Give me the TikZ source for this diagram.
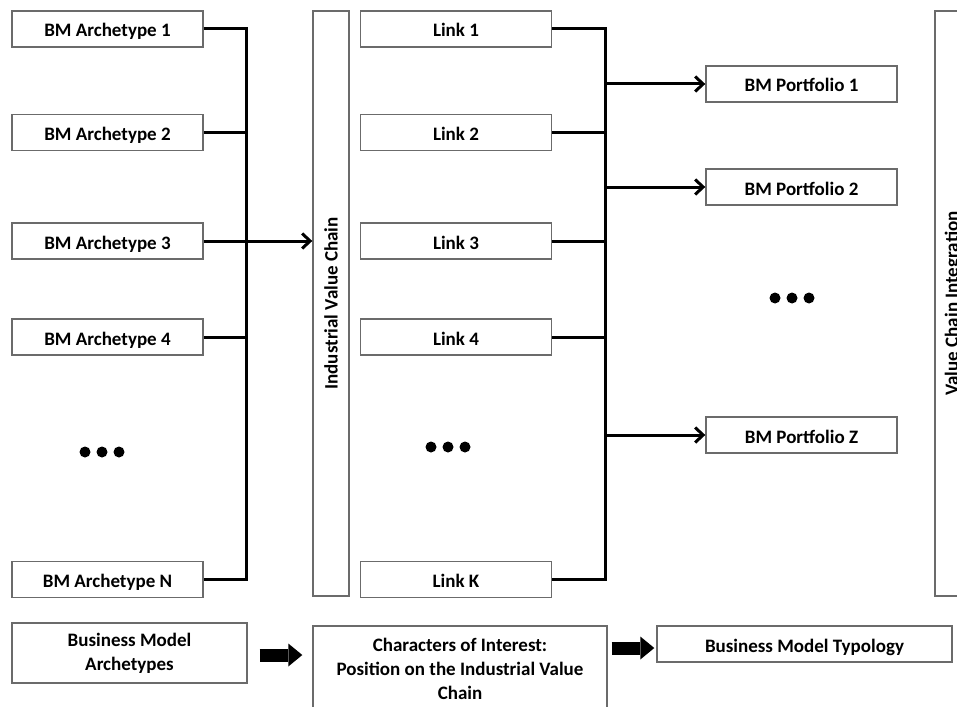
\documentclass[tikz,border=0pt]{standalone}
\usepackage{fontspec}
\setmainfont{Carlito}
\usetikzlibrary{arrows.meta,positioning}

\definecolor{boxgray}{rgb}{0.42,0.42,0.42}

\tikzset{
  box/.style={draw=boxgray, line width=1.4pt, minimum width=191pt, minimum height=36pt,
    inner sep=0pt, align=center, font=\bfseries\fontsize{19}{24}\selectfont},
  line/.style={box, text height=18pt, text depth=2pt},
  tallbox/.style={box, minimum width=36pt, minimum height=585pt},
  wire/.style={line width=3pt},
  fat/.style={line width=13pt, -{Triangle[length=14pt,width=23pt,line width=0pt]}},
  >={Straight Barb[length=8pt,width=15pt]}
}

\begin{document}
\begin{tikzpicture}[x=1pt,y=1pt,on grid]
	\useasboundingbox (0,0) rectangle (957,-706);
	\clip (0,0) rectangle (957,-706);

	% archetypes
	\node[line] (arch1) at (107.5,-29) {BM Archetype 1};
	\node[line] (arch2) [below=103.5pt of arch1] {BM Archetype 2};
	\node[line] (arch3) [below=108.5pt of arch2] {BM Archetype 3};
	\node[line] (arch4) [below=96pt of arch3] {BM Archetype 4};
	\node[line] (archN) [below=242.5pt of arch4] {BM Archetype N};

	% value chain and links
	\node[tallbox] (ivc) at (331,-303.5) {\rotatebox{90}{Industrial Value Chain}};
	\node[line] (link1) [right=348.5pt of arch1] {Link 1};
	\node[line] (link2) [right=348.5pt of arch2] {Link 2};
	\node[line] (link3) [right=348.5pt of arch3] {Link 3};
	\node[line] (link4) [right=348.5pt of arch4] {Link 4};
	\node[line] (linkK) [right=348.5pt of archN] {Link K};

	% portfolios
	\node[line] (port1) at (801.5,-84) {BM Portfolio 1};
	\node[line] (port2) [below=103pt of port1] {BM Portfolio 2};
	\node[line] (portZ) [below=248pt of port2] {BM Portfolio Z};
	\node[tallbox] (vci) at (953,-303.5) {\rotatebox{90}{Value Chain Integration}};

	% bottom row
	\node[box, minimum width=235pt, minimum height=60pt] (bmArch) at (129.5,-653)
		{Business Model\\Archetypes};
	\node[box, minimum width=294pt, minimum height=86pt] (charInt) at (460,-669)
		{Characters of Interest:\\Position on the Industrial Value\\Chain};
	\node[line, minimum width=295pt] (bmTypo) at (804.5,-644) {Business Model Typology};

	% more of the same
	\coordinate (moreArch) at (102,-452);
	\coordinate (moreLink) at (448,-447);
	\coordinate (morePort) at (792,-298);
	\foreach \c in {moreArch,moreLink,morePort}
		\foreach \dx in {-17,0,17}
			\fill ([xshift=\dx pt]\c) circle (5.5);

	% left bus
	\coordinate (busL) at ([xshift=43pt]arch1.east);
	\draw[wire] (arch1.east) -| (archN.east -| busL) -- (archN.east);
	\draw[wire] (arch2.east) -- (arch2.east -| busL);
	\draw[wire] (arch4.east) -- (arch4.east -| busL);
	\draw[wire,->] (arch3.east) -- (arch3.east -| ivc.west);

	% right bus
	\coordinate (busR) at ([xshift=53.5pt]link1.east);
	\draw[wire] (link1.east) -| (linkK.east -| busR) -- (linkK.east);
	\foreach \n in {link2,link3,link4}
		\draw[wire] (\n.east) -- (\n.east -| busR);
	\foreach \n in {port1,port2,portZ}
		\draw[wire,->] (\n.west -| busR) -- (\n.west);

	% flow along the bottom
	\draw[fat, shorten <=12pt, shorten >=10pt] ([yshift=-2pt]bmArch.east) -- ([yshift=-2pt]bmArch.east -| charInt.west);
	\draw[fat, shorten <=4pt, shorten >=2pt] ([yshift=-4pt]bmTypo.west -| charInt.east) -- ([yshift=-4pt]bmTypo.west);
\end{tikzpicture}
\end{document}
